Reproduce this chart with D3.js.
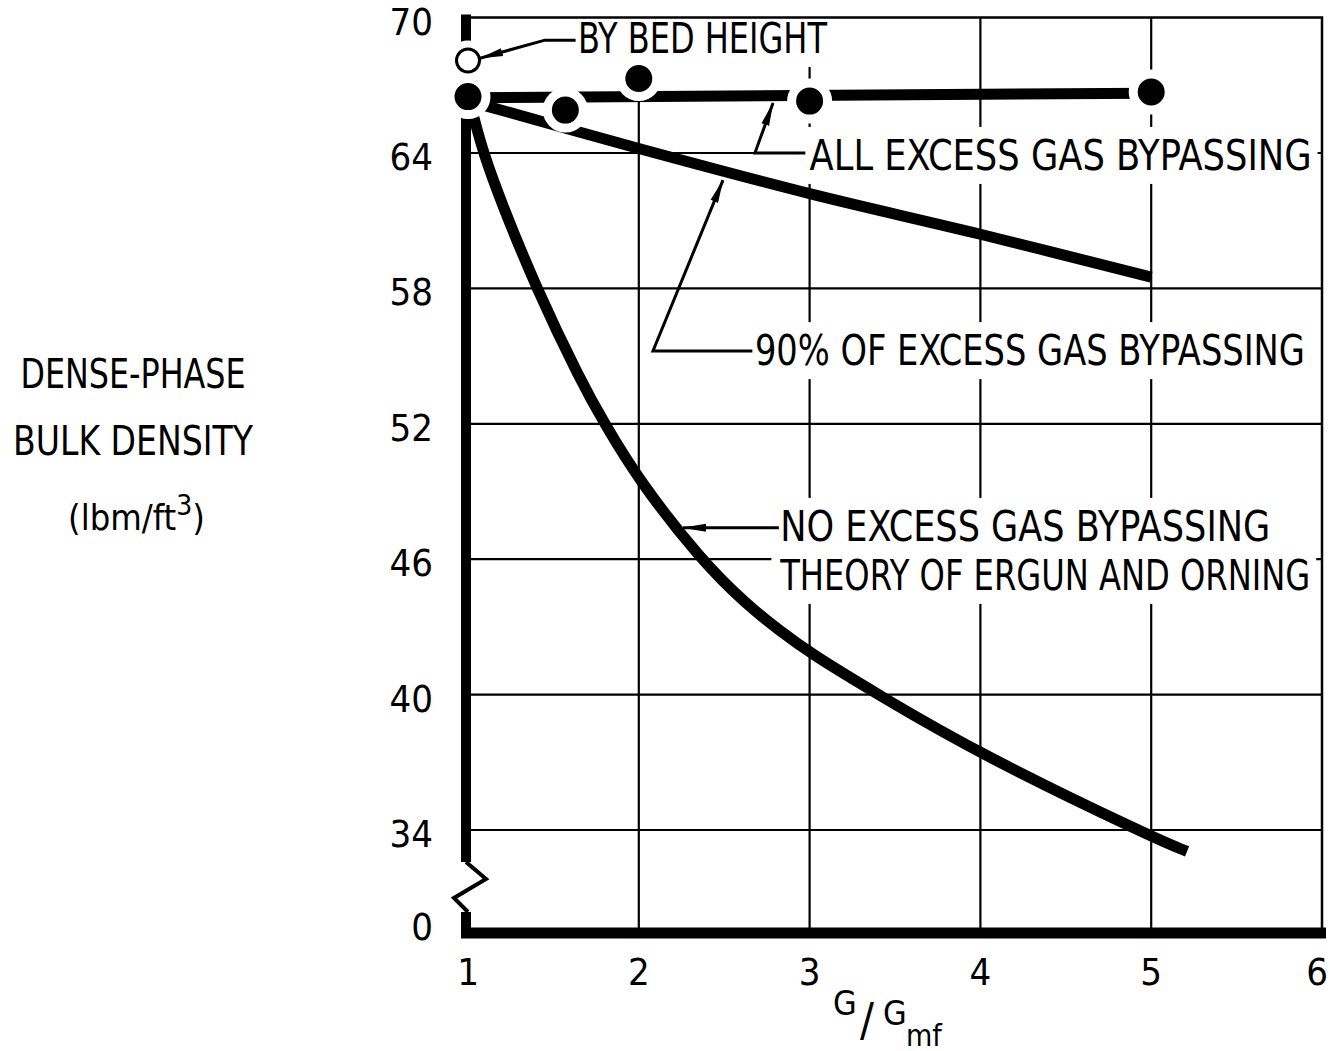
<!DOCTYPE html>
<html>
<head>
<meta charset="utf-8">
<script src="https://cdn.jsdelivr.net/npm/d3@7"></script>
<style>
  body { margin: 0; background: #fff; }
  text { font-family: "Liberation Sans Narrow", "DejaVu Sans Condensed", "Roboto Condensed", sans-serif; fill: #000; }
</style>
</head>
<body>
<div id="chart"></div>
<script>
// axis ticks
const xTicks = [1, 2, 3, 4, 5, 6]
const yTicks = [0, 34, 40, 46, 52, 58, 64, 70]

// measured dense-phase density (G/Gmf, lbm/ft3)
const measuredX = [1, 1.57, 2, 3, 5]
const measuredY = [66.5, 65.9, 67.3, 66.3, 66.7]
// by bed height
const bedHeightX = [1]
const bedHeightY = [68.1]

// all excess gas bypassing
const allBypassX = [1, 5]
const allBypassY = [66.45, 66.65]

// 90% of excess gas bypassing
const ninetyX = [1.1, 2, 3, 4, 5]
const ninetyY = [66.1, 64.2, 62.2, 60.4, 58.5]

// no excess gas bypassing - theory of Ergun and Orning
const noBypassX = [1.03, 1.09, 1.19, 1.4, 1.66, 1.8, 2, 2.36, 2.63, 2.83, 3, 3.4, 4, 5, 5.21]
const noBypassY = [65.7, 64, 61.9, 58, 53.9, 52, 49.5, 46, 44.0, 42.8, 41.85, 40, 37.35, 33.7, 33.05]

// annotation labels, positions in data units; leader runs from label to arrow tip
const annotations = [
  { lines: ['BY BED HEIGHT'], tx: 1.644, ty: [68.43], len: [249],
    leader: [[1.63, 69.0], [1.45, 69.0], [1.07, 68.2]] },
  { lines: ['ALL EXCESS GAS BYPASSING'], tx: 3.0, ty: [63.25], len: [502],
    leader: [[2.975, 64], [2.68, 64], [2.786, 66.22]] },
  { lines: ['90% OF EXCESS GAS BYPASSING'], tx: 2.68, ty: [54.6], len: [550],
    leader: [[2.665, 55.23], [2.083, 55.23], [2.493, 62.8]] },
  { lines: ['NO EXCESS GAS BYPASSING', 'THEORY OF ERGUN AND ORNING'], tx: 2.828, ty: [46.81, 44.64], len: [490, 530],
    leader: [[2.82, 47.39], [2.259, 47.39]] }
]

const params = {
  fullWidth: 1330,
  fullHeight: 1051,
  left: 468,
  right: 1322,
  top: 17.6,
  low: 830,      // position of 34, bottom of the unbroken scale
  bottom: 933    // position of 0 after the axis break
}

const svg = d3.select('#chart').append('svg')
  .attr('width', params.fullWidth)
  .attr('height', params.fullHeight)
svg.append('rect').attr('width', params.fullWidth).attr('height', params.fullHeight).attr('fill', '#fff')

const defs = svg.append('defs')
defs.append('marker')
  .attr('id', 'arrow')
  .attr('viewBox', '0 0 24 10')
  .attr('refX', 23).attr('refY', 5)
  .attr('markerWidth', 24).attr('markerHeight', 10)
  .attr('markerUnits', 'userSpaceOnUse')
  .attr('orient', 'auto')
  .append('path').attr('d', 'M0,1 L24,5 L0,9 Z').attr('fill', '#000')

const x = d3.scaleLinear().domain([1, 6]).range([params.left, params.right])
const y = d3.scaleLinear().domain([34, 70]).range([params.low, params.top])
function yPos(v) { return v === 0 ? params.bottom : y(v) }

const gridG = svg.append('g')
const bgG = svg.append('g')
const axisG = svg.append('g')
const lineG = svg.append('g')
const dotG = svg.append('g')
const annG = svg.append('g')

// grid
gridG.selectAll('line.v').data(xTicks.filter(d => d > 1 && d < 6)).enter().append('line')
  .attr('class', 'v')
  .attr('x1', d => x(d)).attr('x2', d => x(d))
  .attr('y1', y(70)).attr('y2', params.bottom)
  .attr('stroke', '#000').attr('stroke-width', 2.2)
gridG.selectAll('line.h').data(yTicks.filter(d => d > 0 && d < 70)).enter().append('line')
  .attr('class', 'h')
  .attr('x1', x(1)).attr('x2', x(6))
  .attr('y1', d => y(d)).attr('y2', d => y(d))
  .attr('stroke', '#000').attr('stroke-width', 2.2)

// frame top and right
axisG.append('path')
  .attr('d', `M${x(1) - 6},${y(70)} H${x(6)} V${params.bottom}`)
  .attr('fill', 'none').attr('stroke', '#000').attr('stroke-width', 2.5)

// thick left axis with break, thick bottom axis
const ax = x(1) - 2
const zigTop = params.bottom - 71
axisG.append('path')
  .attr('d', `M${ax},${y(70) - 3} V${zigTop}`)
  .attr('stroke', '#000').attr('stroke-width', 10).attr('fill', 'none')
axisG.append('path')
  .attr('d', `M${ax},${zigTop} L${ax + 20},${zigTop + 17} L${ax - 12},${zigTop + 36} L${ax + 2},${zigTop + 50}`)
  .attr('stroke', '#000').attr('stroke-width', 4).attr('fill', 'none')
axisG.append('path')
  .attr('d', `M${ax},${zigTop + 50} V${params.bottom + 5}`)
  .attr('stroke', '#000').attr('stroke-width', 10).attr('fill', 'none')
axisG.append('path')
  .attr('d', `M${ax - 5},${params.bottom} H${x(6) + 4}`)
  .attr('stroke', '#000').attr('stroke-width', 11).attr('fill', 'none')

// tick labels
axisG.selectAll('text.yt').data(yTicks).enter().append('text')
  .attr('class', 'yt')
  .attr('x', x(1) - 35)
  .attr('y', d => yPos(d) + (d === 0 ? 7 : 17))
  .attr('text-anchor', 'end')
  .attr('font-size', 38)
  .text(d => d)
axisG.selectAll('text.xt').data(xTicks).enter().append('text')
  .attr('class', 'xt')
  .attr('x', d => x(d) - (d === 6 ? 5 : 0))
  .attr('y', params.bottom + 52)
  .attr('text-anchor', 'middle')
  .attr('font-size', 38)
  .text(d => d)

// axis titles
const yTitle = [['DENSE-PHASE', 388, 225], ['BULK DENSITY', 455, 240]]
yTitle.forEach(t => {
  axisG.append('text').attr('x', 133).attr('y', t[1]).attr('text-anchor', 'middle')
    .attr('font-size', 40).attr('textLength', t[2]).attr('lengthAdjust', 'spacingAndGlyphs')
    .text(t[0])
})
const unit = axisG.append('text').attr('x', 68).attr('y', 530).attr('font-size', 36)
unit.append('tspan').text('(lbm/ft')
unit.append('tspan').attr('dy', -15).attr('font-size', 28).text('3')
unit.append('tspan').attr('dy', 15).text(')')

axisG.append('text').attr('x', 833).attr('y', 1015).attr('font-size', 34).text('G')
axisG.append('text').attr('x', 860).attr('y', 1036).attr('font-size', 46).text('/')
axisG.append('text').attr('x', 883).attr('y', 1025).attr('font-size', 34).text('G')
axisG.append('text').attr('x', 906).attr('y', 1046).attr('font-size', 30).text('mf')

// curves
const line = d3.line().x(d => x(d[0])).y(d => y(d[1]))
const zip = (a, b) => a.map((d, i) => [d, b[i]])
lineG.append('path').datum(zip(allBypassX, allBypassY))
  .attr('d', line).attr('fill', 'none').attr('stroke', '#000').attr('stroke-width', 11)
lineG.append('path').datum(zip(ninetyX, ninetyY))
  .attr('d', line.curve(d3.curveCatmullRom)).attr('fill', 'none').attr('stroke', '#000').attr('stroke-width', 11)
lineG.append('path').datum(zip(noBypassX, noBypassY))
  .attr('d', line.curve(d3.curveBasis)).attr('fill', 'none').attr('stroke', '#000').attr('stroke-width', 11)

// points with white halo
dotG.selectAll('circle.m').data(zip(measuredX, measuredY)).enter().append('circle')
  .attr('class', 'm')
  .attr('cx', d => x(d[0])).attr('cy', d => y(d[1])).attr('r', 18)
  .attr('fill', '#000').attr('stroke', '#fff').attr('stroke-width', 9)
dotG.selectAll('circle.b').data(zip(bedHeightX, bedHeightY)).enter().append('circle')
  .attr('class', 'b')
  .attr('cx', d => x(d[0])).attr('cy', d => y(d[1])).attr('r', 16)
  .attr('fill', '#fff').attr('stroke', '#fff').attr('stroke-width', 8)
dotG.selectAll('circle.bo').data(zip(bedHeightX, bedHeightY)).enter().append('circle')
  .attr('class', 'bo')
  .attr('cx', d => x(d[0])).attr('cy', d => y(d[1])).attr('r', 11.5)
  .attr('fill', '#fff').attr('stroke', '#000').attr('stroke-width', 3)

// annotations
annotations.forEach(a => {
  const texts = a.lines.map((s, i) => annG.append('text')
    .attr('x', x(a.tx)).attr('y', y(a.ty[i]))
    .attr('font-size', 42)
    .attr('textLength', a.len[i]).attr('lengthAdjust', 'spacingAndGlyphs')
    .text(s))
  const boxes = texts.map(t => t.node().getBBox())
  const x0 = d3.min(boxes, b => b.x) - 8
  const x1 = d3.max(boxes, b => b.x + b.width) + 6
  const y0 = d3.min(boxes, b => b.y) - 4
  const y1 = d3.max(boxes, b => b.y + b.height) + 4
  bgG.append('rect').attr('x', x0).attr('y', y0).attr('width', x1 - x0).attr('height', y1 - y0).attr('fill', '#fff')
  annG.append('path')
    .attr('d', d3.line().x(d => x(d[0])).y(d => y(d[1]))(a.leader))
    .attr('fill', 'none').attr('stroke', '#000').attr('stroke-width', 3)
    .attr('marker-end', 'url(#arrow)')
})
</script>
</body>
</html>
